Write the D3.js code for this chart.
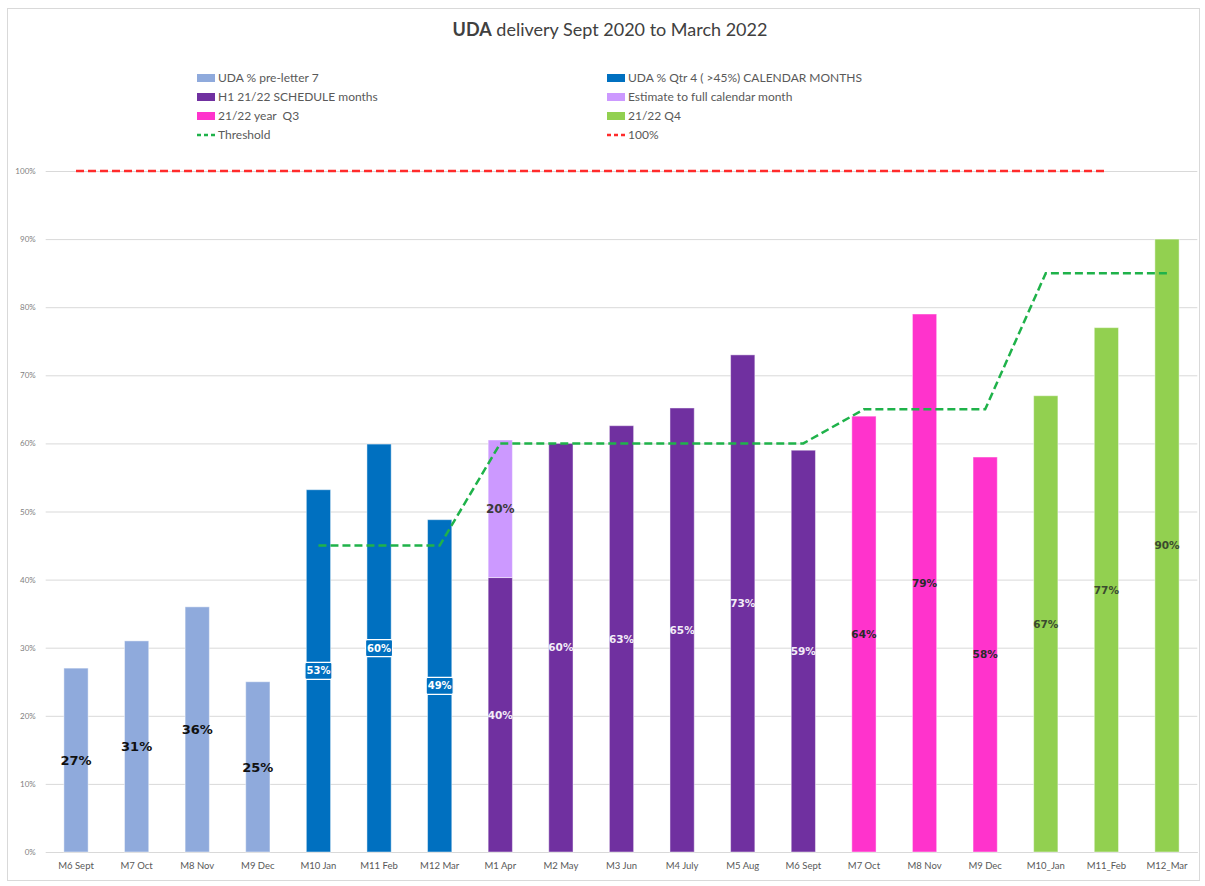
<!DOCTYPE html>
<html>
<head>
<meta charset="utf-8">
<script src="https://cdn.jsdelivr.net/npm/d3@7"></script>
<style>
  html, body { margin: 0; padding: 0; background: #fff; }
  svg { display: block; }
</style>
</head>
<body>
<svg id="chart" width="1205" height="886"></svg>
<script>
// ---------- DATA ----------
const categories = ["M6 Sept","M7 Oct","M8 Nov","M9 Dec","M10 Jan","M11 Feb","M12 Mar",
  "M1 Apr","M2 May","M3 Jun","M4 July","M5 Aug","M6 Sept ","M7 Oct ","M8 Nov ","M9 Dec ",
  "M10_Jan","M11_Feb","M12_Mar"];
const udaValues = [27,31,36,25,53.2,59.9,48.8,40.3,60,62.6,65.2,73,59,64,79,58,67,77,90];
const seriesOf  = ["pre","pre","pre","pre","q4cal","q4cal","q4cal",
  "h1","h1","h1","h1","h1","h1","q3","q3","q3","q4","q4","q4"];
const estimateValues = [null,null,null,null,null,null,null,20.2,null,null,null,null,null,null,null,null,null,null,null];
const thresholdValues = [null,null,null,null,45,45,45,60,60,60,60,60,60,65,65,65,85,85,85];
const hundredValues = [100,100,100,100,100,100,100,100,100,100,100,100,100,100,100,100,100,100,null];
const yTicks = [0,10,20,30,40,50,60,70,80,90,100];
const legendItems = [
  {key:"pre",   label:"UDA % pre-letter 7", type:"bar"},
  {key:"q4cal", label:"UDA % Qtr 4 ( >45%) CALENDAR MONTHS", type:"bar"},
  {key:"h1",    label:"H1 21/22 SCHEDULE months", type:"bar"},
  {key:"est",   label:"Estimate to full calendar month", type:"bar"},
  {key:"q3",    label:"21/22 year  Q3", type:"bar"},
  {key:"q4",    label:"21/22 Q4", type:"bar"},
  {key:"thr",   label:"Threshold", type:"line"},
  {key:"hun",   label:"100%", type:"line"}
];

// ---------- STYLES ----------
const colors = {pre:"#8faadc", q4cal:"#0070c0", h1:"#7030a0", est:"#cc99ff",
  q3:"#ff33cc", q4:"#92d050", thr:"#1fb24a", hun:"#ff2b2b"};

const svg = d3.select("#chart");
const W = 1205, H = 886;
const margin = {left: 45.7, right: 7.7, top: 171, bottom: 34};

// border
svg.append("rect").attr("x",7.5).attr("y",8.5).attr("width",1192).attr("height",872)
  .attr("fill","#fff").attr("stroke","#d9d9d9").attr("stroke-width",1);

const x = d3.scaleBand().domain(d3.range(categories.length))
  .range([margin.left, W - margin.right]).paddingInner(0.6).paddingOuter(0.3);
const y = d3.scaleLinear().domain([0,100]).range([H - margin.bottom, margin.top]);

// grid
const yAxis = d3.axisLeft(y).tickValues(yTicks).tickFormat(d => d + "%")
  .tickSize(-(W - margin.right - margin.left)).tickPadding(10);
const gy = svg.append("g").attr("transform", `translate(${margin.left},0)`).call(yAxis);
gy.select(".domain").remove();
gy.selectAll(".tick line").attr("stroke","#d9d9d9").attr("stroke-width",1);
gy.selectAll(".tick text").attr("fill","#7f7f7f").style("font-family","Lato, 'Open Sans', sans-serif")
  .style("font-size","8px");

// x axis
const xAxis = d3.axisBottom(x).tickFormat(i => categories[i].trim()).tickSize(0).tickPadding(10);
const gx = svg.append("g").attr("transform", `translate(0,${y(0)})`).call(xAxis);
gx.select(".domain").attr("stroke","#d9d9d9");
gx.selectAll(".tick text").attr("fill","#595959").style("font-family","Lato, 'Open Sans', sans-serif")
  .style("font-size","9.5px");

// bars
const bw = x.bandwidth();
const barData = udaValues.map((v,i) => ({i, v, s: seriesOf[i]}));
svg.append("g").selectAll("rect").data(barData).join("rect")
  .attr("x", d => x(d.i)).attr("width", bw)
  .attr("y", d => y(d.v)).attr("height", d => y(0) - y(d.v))
  .attr("fill", d => colors[d.s])
  .attr("stroke", "#ffffff").attr("stroke-opacity", 0.45).attr("stroke-width", 1);

const estData = estimateValues.map((v,i) => ({i, v})).filter(d => d.v != null);
svg.append("g").selectAll("rect").data(estData).join("rect")
  .attr("x", d => x(d.i)).attr("width", bw)
  .attr("y", d => y(udaValues[d.i] + d.v)).attr("height", d => y(udaValues[d.i]) - y(udaValues[d.i] + d.v))
  .attr("fill", colors.est)
  .attr("stroke", "#ffffff").attr("stroke-opacity", 0.45).attr("stroke-width", 1);

// lines
const lineGen = d3.line().defined(d => d != null)
  .x((d,i) => x(i) + bw/2).y(d => y(d));
svg.append("path").datum(hundredValues).attr("d", lineGen)
  .attr("fill","none").attr("stroke",colors.hun).attr("stroke-width",2.5)
  .attr("stroke-dasharray","8,4");
svg.append("path").datum(thresholdValues).attr("d", lineGen)
  .attr("fill","none").attr("stroke",colors.thr).attr("stroke-width",2.5)
  .attr("stroke-dasharray","8,4");

// labels
const labelStyle = {
  pre:   {fill:"#111", size:13, weight:"bold", font:"'DejaVu Sans', sans-serif"},
  q4cal: {fill:"#fff", size:10, weight:"bold", font:"'DejaVu Sans', sans-serif"},
  h1:    {fill:"#f2ecf7", size:10.5, weight:"bold", font:"'DejaVu Sans', sans-serif"},
  est:   {fill:"#3a3a3a", size:12, weight:"bold", font:"'DejaVu Sans', sans-serif"},
  q3:    {fill:"#2a2a2a", size:10.5, weight:"bold", font:"'DejaVu Sans', sans-serif"},
  q4:    {fill:"#3b4a2e", size:10.5, weight:"bold", font:"'DejaVu Sans', sans-serif"}
};
const lbl = svg.append("g");
barData.forEach(d => {
  const st = labelStyle[d.s];
  const cx = x(d.i) + bw/2, cy = y(d.v/2);
  if (d.s === "q4cal") {
    lbl.append("rect").attr("x", cx - 13.5).attr("y", cy - 8.5).attr("width", 27).attr("height", 17)
      .attr("rx", 1.5).attr("fill", colors.q4cal).attr("stroke", "#fff").attr("stroke-width", 1.2);
  }
  lbl.append("text").attr("x", cx).attr("y", cy).attr("dy","0.36em")
    .attr("text-anchor","middle").attr("fill", st.fill)
    .style("font-family", st.font).style("font-size", st.size + "px").style("font-weight", st.weight)
    .text(Math.round(d.v) + "%");
});
estData.forEach(d => {
  const st = labelStyle.est;
  const base = udaValues[d.i];
  lbl.append("text").attr("x", x(d.i) + bw/2).attr("y", y(base + d.v/2)).attr("dy","0.36em")
    .attr("text-anchor","middle").attr("fill", st.fill)
    .style("font-family", st.font).style("font-size", st.size + "px").style("font-weight", st.weight)
    .text(Math.round(d.v) + "%");
});

// title
const title = svg.append("text").attr("x", 610).attr("y", 36).attr("text-anchor","middle")
  .attr("fill","#404040").style("font-family","Lato, 'Open Sans', sans-serif").style("font-size","18px");
title.append("tspan").style("font-weight","bold").text("UDA");
title.append("tspan").text(" delivery Sept 2020 to March 2022");

// legend
const lg = svg.append("g");
const colX = [197, 607], rowY = [78, 97, 116, 135];
legendItems.forEach((it, k) => {
  const gx0 = colX[k % 2], gy0 = rowY[Math.floor(k / 2)];
  if (it.type === "bar") {
    lg.append("rect").attr("x", gx0).attr("y", gy0 - 4).attr("width", 18).attr("height", 8)
      .attr("fill", colors[it.key]);
  } else {
    lg.append("line").attr("x1", gx0).attr("x2", gx0 + 18).attr("y1", gy0).attr("y2", gy0)
      .attr("stroke", colors[it.key]).attr("stroke-width", 2.5).attr("stroke-dasharray", "4,3");
  }
  lg.append("text").attr("x", gx0 + 21).attr("y", gy0).attr("dy", "0.35em")
    .attr("fill", "#595959").style("font-family","Lato, 'Open Sans', sans-serif").style("font-size","12px")
    .style("white-space","pre")
    .text(it.label);
});
</script>
</body>
</html>
